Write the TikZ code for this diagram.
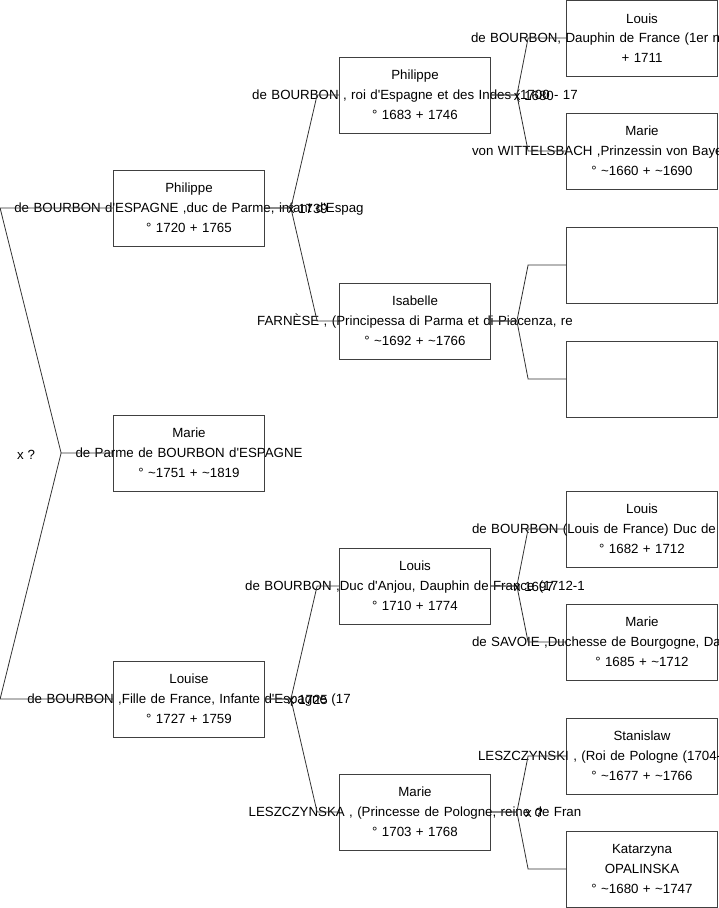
\documentclass[tikz,border=0pt]{standalone}
\usepackage{fontspec}
\setmainfont{Liberation Sans}[Ligatures=TeXOff]

\newcommand{\ca}{\textasciitilde}
% long middle lines run out of the box
\newcommand{\wide}[1]{\makebox[0pt]{#1}}
\newcommand{\cut}[2]{\makebox[0pt][l]{\hspace{#1}#2}}

\begin{document}
\begin{tikzpicture}[
    x=1pt, y=-1pt,
    person/.style={rectangle, draw=black!75, line width=0.8pt, minimum width=151pt, minimum height=76pt, text width=151pt, inner sep=0pt, align=center, font=\fontsize{13.3}{19.8}\selectfont},
    link/.style={draw=black!80, line width=0.8pt},
    wed/.style={inner sep=0pt, font=\fontsize{13.3}{19.8}\selectfont}
  ]
    \useasboundingbox (0,0) rectangle (719,908);
    \clip (0,0) rectangle (719,908);

    % Generation 1
    \node[person] (philippe) at (189,208) {Philippe\\\wide{de BOURBON d'ESPAGNE ,duc de Parme, infant d'Espag}\\° 1720 + 1765};
    \node[person] (marie) at (189,453) {Marie\\\wide{de Parme de BOURBON d'ESPAGNE}\\° \ca1751 + \ca1819};
    \node[person] (louise) at (189,699) {Louise\\\wide{de BOURBON ,Fille de France, Infante d'Espagne (17}\\° 1727 + 1759};

    % Generation 2
    \node[person] (philippeV) at (415,95) {Philippe\\\wide{de BOURBON , roi d'Espagne et des Indes (1700 - 17}\\° 1683 + 1746};
    \node[person] (isabelle) at (415,321) {Isabelle\\\wide{FARNÈSE , (Principessa di Parma et di Piacenza, re}\\° \ca1692 + \ca1766};
    \node[person] (louisXV) at (415,586) {Louis\\\wide{de BOURBON ,Duc d'Anjou, Dauphin de France (1712-1}\\° 1710 + 1774};
    \node[person] (marieL) at (415,812) {Marie\\\wide{LESZCZYNSKA , (Princesse de Pologne, reine de Fran}\\° 1703 + 1768};

    % Generation 3
    \node[person] (louisGD) at (642,38) {Louis\\\cut{-171pt}{de BOURBON, Dauphin de France (1er ne}\\+ 1711};
    \node[person] (marieA) at (642,151) {Marie\\\cut{-170pt}{von WITTELSBACH ,Prinzessin von Baye}\\° \ca1660 + \ca1690};
    \node[person] (blankA) at (642,265) {};
    \node[person] (blankB) at (642,379) {};
    \node[person] (louisB) at (642,529) {Louis\\\cut{-170pt}{de BOURBON (Louis de France) Duc de B}\\° 1682 + 1712};
    \node[person] (marieS) at (642,642) {Marie\\\cut{-170pt}{de SAVOIE ,Duchesse de Bourgogne, Da}\\° 1685 + \ca1712};
    \node[person] (stanislaw) at (642,756) {Stanislaw\\\cut{-164pt}{LESZCZYNSKI , (Roi de Pologne (1704-}\\° \ca1677 + \ca1766};
    \node[person] (katarzyna) at (642,869) {Katarzyna\\OPALINSKA\\° \ca1680 + \ca1747};

    % Parents of Marie
    \draw[link] (philippe.west) -- ++(-113,0) -- ([xshift=-52]marie.west) -- (marie.west);
    \draw[link] (louise.west) -- ++(-113,0) -- ([xshift=-52]marie.west);
    \node[wed] (xMarie) at ([xshift=-87,yshift=-2]marie.west) {x ?};

    % Parents of generation 1
    \draw[link] (philippe.east) -- ++(26,0) -- ([xshift=-22]philippeV.west) -- (philippeV.west);
    \draw[link] (philippe.east) -- ++(26,0) -- ([xshift=-22]isabelle.west) -- (isabelle.west);
    \node[wed] (xPhilippe) at ([xshift=43,yshift=-1]philippe.east) {x 1739};
    \draw[link] (louise.east) -- ++(26,0) -- ([xshift=-22]louisXV.west) -- (louisXV.west);
    \draw[link] (louise.east) -- ++(26,0) -- ([xshift=-22]marieL.west) -- (marieL.west);
    \node[wed] (xLouise) at ([xshift=43,yshift=-1]louise.east) {x 1725};

    % Parents of generation 2
    \draw[link] (philippeV.east) -- ++(26,0) -- ([xshift=-38]louisGD.west) -- (louisGD.west);
    \draw[link] (philippeV.east) -- ++(26,0) -- ([xshift=-38]marieA.west) -- (marieA.west);
    \node[wed] (xPhilippeV) at ([xshift=43,yshift=-1]philippeV.east) {x 1680};
    \draw[link] (isabelle.east) -- ++(26,0) -- ([xshift=-38]blankA.west) -- (blankA.west);
    \draw[link] (isabelle.east) -- ++(26,0) -- ([xshift=-38]blankB.west) -- (blankB.west);
    \draw[link] (louisXV.east) -- ++(26,0) -- ([xshift=-38]louisB.west) -- (louisB.west);
    \draw[link] (louisXV.east) -- ++(26,0) -- ([xshift=-38]marieS.west) -- (marieS.west);
    \node[wed] (xLouisXV) at ([xshift=43,yshift=-1]louisXV.east) {x 1697};
    \draw[link] (marieL.east) -- ++(26,0) -- ([xshift=-38]stanislaw.west) -- (stanislaw.west);
    \draw[link] (marieL.east) -- ++(26,0) -- ([xshift=-38]katarzyna.west) -- (katarzyna.west);
    \node[wed] (xMarieL) at ([xshift=43,yshift=-1]marieL.east) {x ?};

  \end{tikzpicture}
\end{document}
